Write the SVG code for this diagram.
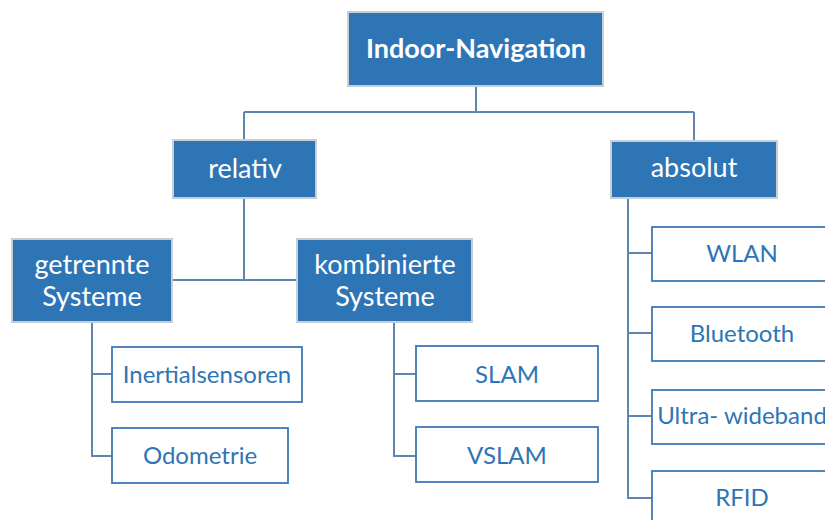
<svg xmlns="http://www.w3.org/2000/svg" width="825" height="520" viewBox="0 0 825 520">
<style>
.b{fill:#2E75B6;stroke:#C9CED4;stroke-width:2}
.w{fill:#FFFFFF;stroke:#3E79B3;stroke-width:1.8}
.tb{font-family:Lato,"Open Sans","Liberation Sans",sans-serif;font-size:27px;fill:#FFFFFF;text-anchor:middle}
.tw{font-family:Lato,"Open Sans","Liberation Sans",sans-serif;font-size:24px;fill:#2E75B6;text-anchor:middle}
.c{fill:none;stroke:#5F86AE;stroke-width:2}
</style>
<rect width="825" height="520" fill="#FFFFFF"/>
<g id="connectors">
<path class="c" d="M476 86V112M244 112H694M244 112V140M694 112V141"/>
<path class="c" d="M244 198V280M172 280H297"/>
<path class="c" d="M92 322V456H112M92 374H112"/>
<path class="c" d="M394 322V456H416M394 374H416"/>
<path class="c" d="M628 198V498H652M628 253H652M628 333H652M628 416H652"/>
</g>
<g id="indoor-navigation"><rect class="b" x="348" y="12" width="255" height="74"/><text class="tb" x="476" y="58" font-weight="bold">Indoor-Navigation</text></g>
<g id="relativ"><rect class="b" x="173" y="140" width="143" height="58"/><text class="tb" x="245" y="178">relativ</text></g>
<g id="absolut"><rect class="b" x="611" y="141" width="166" height="57"/><text class="tb" x="694" y="177">absolut</text></g>
<g id="getrennte"><rect class="b" x="12" y="239" width="160" height="83"/><text class="tb" x="92" y="274">getrennte</text><text class="tb" x="92" y="306">Systeme</text></g>
<g id="kombinierte"><rect class="b" x="297" y="239" width="175" height="83"/><text class="tb" x="385" y="274">kombinierte</text><text class="tb" x="385" y="306">Systeme</text></g>
<g id="inertialsensoren"><rect class="w" x="112" y="347" width="190" height="55"/><text class="tw" x="207" y="383">Inertialsensoren</text></g>
<g id="odometrie"><rect class="w" x="112" y="428" width="176" height="55"/><text class="tw" x="200" y="464">Odometrie</text></g>
<g id="slam"><rect class="w" x="416" y="346" width="182" height="55"/><text class="tw" x="507" y="383">SLAM</text></g>
<g id="vslam"><rect class="w" x="416" y="427" width="182" height="55"/><text class="tw" x="507" y="464">VSLAM</text></g>
<g id="wlan"><rect class="w" x="652" y="227" width="180" height="54"/><text class="tw" x="742" y="262">WLAN</text></g>
<g id="bluetooth"><rect class="w" x="652" y="307" width="180" height="54"/><text class="tw" x="742" y="342">Bluetooth</text></g>
<g id="ultra-wideband"><rect class="w" x="652" y="390" width="180" height="54"/><text class="tw" x="742" y="424">Ultra- wideband</text></g>
<g id="rfid"><rect class="w" x="652" y="471" width="180" height="60"/><text class="tw" x="742" y="506">RFID</text></g>
</svg>
